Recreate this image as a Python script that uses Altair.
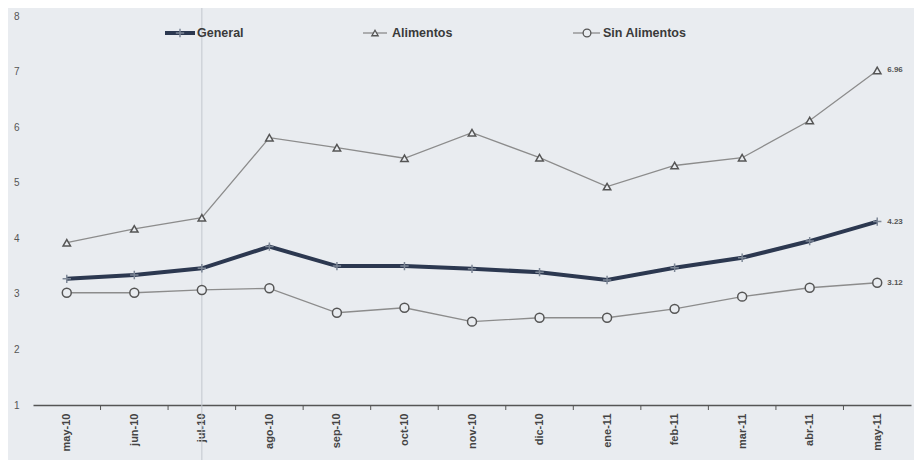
import altair as alt
import pandas as pd

months = ["may-10", "jun-10", "jul-10", "ago-10", "sep-10", "oct-10", "nov-10",
          "dic-10", "ene-11", "feb-11", "mar-11", "abr-11", "may-11"]
general = [3.27, 3.34, 3.46, 3.85, 3.50, 3.50, 3.45, 3.39, 3.25, 3.47, 3.65, 3.95, 4.30]
alimentos = [3.92, 4.17, 4.37, 5.81, 5.63, 5.44, 5.90, 5.45, 4.93, 5.31, 5.45, 6.12, 7.02]
sin_alimentos = [3.02, 3.02, 3.07, 3.10, 2.66, 2.75, 2.50, 2.57, 2.57, 2.73, 2.95, 3.11, 3.20]
end_labels = ["4.23", "6.96", "3.12"]
series_names = ["General", "Alimentos", "Sin Alimentos"]
y_ticks = [1, 2, 3, 4, 5, 6, 7, 8]

BG = "#e9ecf0"
FONT = "Liberation Sans"

idx = list(range(len(months)))
df = pd.DataFrame({
    "i": idx * 3,
    "v": general + alimentos + sin_alimentos,
    "s": [series_names[0]] * 13 + [series_names[1]] * 13 + [series_names[2]] * 13,
})
df_g = df[df.s == "General"]
df_a = df[df.s == "Alimentos"]
df_s = df[df.s == "Sin Alimentos"]

lab_df = pd.DataFrame({
    "i": [12, 12, 12],
    "v": [general[-1], alimentos[-1], sin_alimentos[-1]],
    "t": end_labels,
})

label_expr = "[" + ",".join("'" + m + "'" for m in months) + "][datum.value]"

x_scale = alt.Scale(domain=[-0.5, 12.5], nice=False, zero=False)
y_scale = alt.Scale(domain=[1, 8], nice=False, zero=False)

x_enc = alt.X("i:Q", scale=x_scale, axis=alt.Axis(
    values=idx, labelExpr=label_expr, labelAngle=-90, ticks=False, grid=False,
    domainColor="#555", domainWidth=1.5, labelFont=FONT, labelFontSize=11,
    labelFontWeight="bold", labelColor="#444", labelPadding=8, title=None))
y_enc = alt.Y("v:Q", scale=y_scale, axis=alt.Axis(
    values=y_ticks, format="d", ticks=False, domain=False, grid=False, labelFont=FONT,
    labelFontSize=10, labelColor="#555", labelPadding=14, title=None))

# scan artifact vertical line at jul-10
artifact = alt.Chart(pd.DataFrame({"i": [2]})).mark_rule(color="#c3c7ce", strokeWidth=1).encode(
    x=alt.X("i:Q", scale=x_scale), y=alt.value(-10), y2=alt.value(460))

# category boundary ticks
tick_df = pd.DataFrame({"i": [k + 0.5 for k in range(12)]})
ticks = alt.Chart(tick_df).mark_rule(color="#555", strokeWidth=1).encode(
    x=alt.X("i:Q", scale=x_scale), y=alt.value(389), y2=alt.value(394))

line_a = alt.Chart(df_a).mark_line(color="#8c8c8c", strokeWidth=1.3).encode(x=x_enc, y=y_enc)
pts_a = alt.Chart(df_a).mark_point(shape="triangle-up", filled=True, fill=BG, stroke="#555",
                                   strokeWidth=1.5, size=55, opacity=1).encode(
    x=alt.X("i:Q", scale=x_scale), y=alt.Y("v:Q", scale=y_scale))

line_s = alt.Chart(df_s).mark_line(color="#8c8c8c", strokeWidth=1.3).encode(
    x=alt.X("i:Q", scale=x_scale), y=alt.Y("v:Q", scale=y_scale))
pts_s = alt.Chart(df_s).mark_point(shape="circle", filled=True, fill=BG, stroke="#555",
                                   strokeWidth=1.5, size=80, opacity=1).encode(
    x=alt.X("i:Q", scale=x_scale), y=alt.Y("v:Q", scale=y_scale))

line_g = alt.Chart(df_g).mark_line(color="#2c3850", strokeWidth=4).encode(
    x=alt.X("i:Q", scale=x_scale), y=alt.Y("v:Q", scale=y_scale))
pts_g = alt.Chart(df_g).mark_point(shape="M0,-1V1M-1,0H1", filled=False, stroke="#7d8796",
                                   strokeWidth=1.5, size=70, opacity=1).encode(
    x=alt.X("i:Q", scale=x_scale), y=alt.Y("v:Q", scale=y_scale))

end_text = alt.Chart(lab_df).mark_text(align="left", dx=10, fontSize=8, fontWeight="bold",
                                       font=FONT, color="#555").encode(
    x=alt.X("i:Q", scale=x_scale), y=alt.Y("v:Q", scale=y_scale), text="t:N")

# legend (manual)
LEG_Y = 17
leg_text_x = [164, 359, 570]
leg_df = pd.DataFrame({"t": series_names, "x": leg_text_x})
leg_text = alt.Chart(leg_df).mark_text(align="left", baseline="middle", fontSize=12.5,
                                       fontWeight="bold", font=FONT, color="#3a3a3a").encode(
    x=alt.X("x:Q", scale=None), y=alt.value(LEG_Y), text="t:N")

one = pd.DataFrame({"a": [0]})
leg_g_line = alt.Chart(one).mark_rule(color="#2c3850", strokeWidth=4).encode(
    x=alt.value(132), x2=alt.value(162), y=alt.value(LEG_Y))
leg_g_pt = alt.Chart(one).mark_point(shape="M0,-1V1M-1,0H1", filled=False,
                                     stroke="#7d8796", strokeWidth=1.5, size=70, opacity=1).encode(
    x=alt.value(147), y=alt.value(LEG_Y))
leg_a_line = alt.Chart(one).mark_rule(color="#8c8c8c", strokeWidth=1.3).encode(
    x=alt.value(330), x2=alt.value(354), y=alt.value(LEG_Y))
leg_a_pt = alt.Chart(one).mark_point(shape="triangle-up", filled=True, fill=BG,
                                     stroke="#555", strokeWidth=1.3, size=40, opacity=1).encode(
    x=alt.value(342), y=alt.value(LEG_Y))
leg_s_line = alt.Chart(one).mark_rule(color="#8c8c8c", strokeWidth=1.3).encode(
    x=alt.value(540), x2=alt.value(567), y=alt.value(LEG_Y))
leg_s_pt = alt.Chart(one).mark_point(shape="circle", filled=True, fill=BG,
                                     stroke="#555", strokeWidth=1.3, size=60, opacity=1).encode(
    x=alt.value(554), y=alt.value(LEG_Y))

chart = alt.layer(
    line_a, artifact, ticks,
    pts_a, line_s, pts_s, line_g, pts_g, end_text,
    leg_g_line, leg_g_pt, leg_text, leg_a_line, leg_a_pt, leg_s_line, leg_s_pt,
).properties(
    width=878, height=389,
    autosize=alt.AutoSizeParams(type="none"),
    padding={"left": 25, "top": 8, "right": 3, "bottom": 55},
    background=BG,
).configure_view(stroke=None)

chart.save("out.html", embed_options={"renderer": "svg", "actions": False})
